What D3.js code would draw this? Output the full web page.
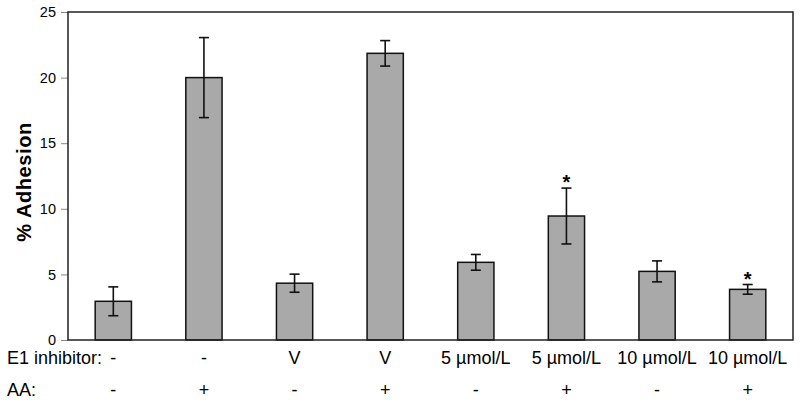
<!DOCTYPE html>
<html>
<head>
<meta charset="utf-8">
<script src="https://cdn.jsdelivr.net/npm/d3@7"></script>
<style>
  body { margin: 0; background: #fff; }
  text { font-family: "Liberation Sans", Arial, sans-serif; fill: #000; }
</style>
</head>
<body>
<div id="chart"></div>
<script>
// values
const inhibitor = ["-", "-", "V", "V", "5 µmol/L", "5 µmol/L", "10 µmol/L", "10 µmol/L"];
const aa = ["-", "+", "-", "+", "-", "+", "-", "+"];
const means = [2.95, 20.0, 4.33, 21.85, 5.92, 9.45, 5.23, 3.86];
const errors = [1.1, 3.05, 0.69, 0.97, 0.6, 2.13, 0.8, 0.37];
const significant = [false, false, false, false, false, true, false, true];
const yTicks = [0, 5, 10, 15, 20, 25];

const W = 800, H = 403;
const margin = { top: 12, right: 7, bottom: 63, left: 68 },
  width = W - margin.left - margin.right,
  height = H - margin.top - margin.bottom;

const svg = d3.select("#chart")
  .append("svg")
  .attr("width", W)
  .attr("height", H);

const g = svg.append("g")
  .attr("transform", `translate(${margin.left},${margin.top})`);

const idx = d3.range(means.length);

const x = d3.scaleBand()
  .domain(idx)
  .range([0, width])
  .paddingInner(0.6)
  .paddingOuter(0.3);

const y = d3.scaleLinear().domain([0, 25]).range([height, 0]);

// y axis ticks + labels
const yAxis = g.append("g")
  .call(d3.axisLeft(y).tickValues(yTicks).tickSize(7).tickPadding(5));
yAxis.select(".domain").remove();
yAxis.selectAll("line").attr("stroke", "#888");
yAxis.selectAll("text")
  .style("font-family", "'Liberation Sans', Arial, sans-serif")
  .style("font-size", "14.5px")
  .attr("fill", "#000");

// bars
g.append("g")
  .selectAll("rect")
  .data(idx)
  .join("rect")
  .attr("x", (i) => x(i))
  .attr("y", (i) => y(means[i]))
  .attr("width", x.bandwidth())
  .attr("height", (i) => y(0) - y(means[i]))
  .attr("fill", "#a9a9a9")
  .attr("stroke", "#111")
  .attr("stroke-width", 1.5);

// error bars
const cap = 5;
const eb = g.append("g").attr("stroke", "#111").attr("stroke-width", 1.6);
idx.forEach((i) => {
  const cx = x(i) + x.bandwidth() / 2;
  const hi = y(means[i] + errors[i]);
  const lo = y(means[i] - errors[i]);
  eb.append("line").attr("x1", cx).attr("x2", cx).attr("y1", hi).attr("y2", lo);
  eb.append("line").attr("x1", cx - cap).attr("x2", cx + cap).attr("y1", hi).attr("y2", hi);
  eb.append("line").attr("x1", cx - cap).attr("x2", cx + cap).attr("y1", lo).attr("y2", lo);
});

// asterisks for significance
g.append("g")
  .selectAll("text")
  .data(idx.filter((i) => significant[i]))
  .join("text")
  .attr("x", (i) => x(i) + x.bandwidth() / 2)
  .attr("y", (i) => y(means[i] + errors[i]) + 1)
  .attr("text-anchor", "middle")
  .style("font-size", "20px")
  .style("font-weight", "bold")
  .text("*");

// plot frame
g.append("rect")
  .attr("x", 0)
  .attr("y", 0)
  .attr("width", width)
  .attr("height", height)
  .attr("fill", "none")
  .attr("stroke", "#222")
  .attr("stroke-width", 1.5);

// y axis title
svg.append("text")
  .attr("transform", `translate(31,${margin.top + height / 2 + 6})rotate(-90)`)
  .attr("text-anchor", "middle")
  .style("font-size", "20px")
  .style("font-weight", "bold")
  .style("letter-spacing", "0.6px")
  .text("% Adhesion");

// category rows under the axis
const rows = [
  { label: "E1 inhibitor:", values: inhibitor, yPos: 364 },
  { label: "AA:", values: aa, yPos: 396 }
];

rows.forEach((r) => {
  svg.append("text")
    .attr("x", 7)
    .attr("y", r.yPos)
    .style("font-size", "18px")
    .text(r.label);
  svg.append("g")
    .selectAll("text")
    .data(idx)
    .join("text")
    .attr("x", (i) => margin.left + x(i) + x.bandwidth() / 2)
    .attr("y", r.yPos)
    .attr("text-anchor", "middle")
    .style("font-size", "18px")
    .text((i) => r.values[i]);
});
</script>
</body>
</html>
